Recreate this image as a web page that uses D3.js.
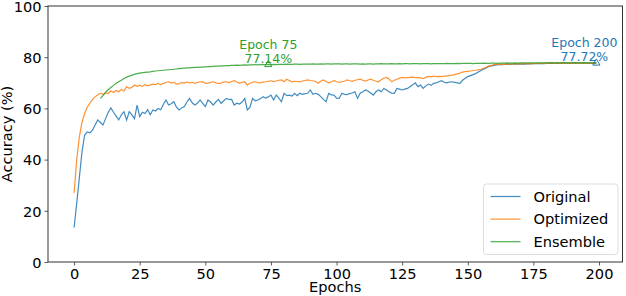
<!DOCTYPE html>
<html>
<head>
<meta charset="utf-8">
<script src="https://cdn.jsdelivr.net/npm/d3@7"></script>
<style>
  body { margin: 0; background: #fff; }
  text { font-family: "DejaVu Sans", sans-serif; }
</style>
</head>
<body>
<div id="chart"></div>
<script>
// accuracy per epoch (index 0..199)
var original = [
  13.5, 23, 33, 43, 49.5, 50.8, 50.5, 51.5, 53.5, 55.5,
  54.5, 53.5, 56, 58.5, 60.2, 58.5, 57, 55.5, 57.5, 58.7,
  55.5, 58.7, 57.5, 56, 61.3, 56.8, 58.5, 58, 59.5, 57.5,
  59.4, 59, 60, 59.5, 61.5, 63.3, 61.3, 61.8, 62.6, 60.5,
  59.4, 60.2, 60.7, 62.5, 63.9, 62.2, 61.3, 62, 63.3, 62,
  60.7, 63.3, 62.5, 61.3, 62.5, 63.5, 62, 63, 63.9, 63.5,
  63.5, 61.3, 62, 61.7, 62.5, 63.9, 59.4, 60.5, 63.9, 63,
  63.3, 63.8, 64.6, 64, 64.5, 65.2, 63.3, 65.2, 64, 62.6,
  65.9, 65, 65.2, 64.8, 65.9, 65, 65.9, 65.5, 65.8, 65.9,
  67.2, 65.5, 65.9, 65.5, 64.6, 63.5, 62.6, 65.9, 65.3, 65.2,
  64, 63.9, 65.9, 65.5, 65.4, 65.8, 66, 66.5, 63.9, 65.9,
  66.5, 67.2, 66.8, 66, 65.2, 66.5, 67.2, 66.5, 67.8, 67.2,
  66.5, 66, 65.9, 67.8, 67.5, 67.2, 67.5, 67.8, 68.5, 69.2,
  70, 68.5, 69.1, 67.8, 68.8, 69.5, 69, 69.8, 70, 70.4,
  70.8, 70.2, 70, 70.3, 70.4, 70.2, 70, 69.8, 71, 71.8,
  72.4, 72.8, 73.2, 73.6, 74.2, 74.8, 75.3, 75.8, 76.4, 76.6,
  76.8, 77, 77.2, 77.1, 77.2, 77.3, 77.2, 77.3, 77.4, 77.3,
  77.3, 77.4, 77.3, 77.5, 77.4, 77.5, 77.6, 77.5, 77.6, 77.5,
  77.6, 77.7, 77.6, 77.6, 77.7, 77.6, 77.7, 77.8, 77.7, 77.6,
  77.7, 77.8, 77.7, 77.7, 77.8, 77.7, 77.6, 77.7, 77.8, 77.72
];

var optimized = [
  27, 40, 49, 54.5, 58, 60.5, 62, 63.5, 64.5, 65.3,
  65.9, 65.5, 66.1, 65.8, 66.8, 66.2, 67, 66.5, 67.4, 66.8,
  68.5, 67.8, 68.2, 69.1, 68.5, 69.1, 68.6, 69.3, 68.8, 69.2,
  69.5, 69.3, 69.8, 69.2, 69.8, 70.1, 70.4, 69.9, 70.2, 69.5,
  69.7, 70.1, 69.9, 70.3, 70, 70.2, 69.8, 70.1, 70.4, 70.4,
  69.8, 69.9, 70.2, 70.4, 70, 69.8, 69.9, 70.3, 70.4, 70.1,
  70.5, 70.8, 70.3, 69.8, 70.2, 70.4, 69.1, 69.8, 70.2, 70.4,
  70.1, 70, 70.3, 70.4, 70.6, 70.8, 70.5, 70.7, 71, 71.1,
  70.4, 71.4, 70.9, 70.4, 70.6, 70.5, 70.4, 70.7, 70.9, 71.1,
  70.9, 70.8, 70.5, 69.8, 70.6, 71.1, 70.5, 70, 70.4, 70.8,
  70.4, 70.2, 70.4, 70.6, 71.1, 70.8, 70.6, 71, 71.2, 71.4,
  71, 70.7, 71.1, 71.4, 71, 70.6, 70.4, 71.2, 71.8, 72.1,
  71.5, 70.4, 71, 71.4, 71.8, 72.1, 71.9, 72, 72.1, 72.2,
  72, 72.1, 71.9, 71.6, 72.1, 72.5, 72.3, 72.6, 72.4, 72.5,
  72.4, 72.6, 72.7, 72.9, 73, 73.2, 73.5, 73.8, 74.2, 74.4,
  74.5, 74.6, 74.8, 74.9, 75.1, 75.3, 75.7, 76.1, 76.5, 76.8,
  77.1, 77.2, 77.2, 77.3, 77.2, 77.4, 77.3, 77.4, 77.5, 77.4,
  77.5, 77.4, 77.6, 77.5, 77.6, 77.5, 77.6, 77.7, 77.6, 77.7,
  77.6, 77.7, 77.7, 77.6, 77.8, 77.7, 77.6, 77.7, 77.8, 77.7,
  77.6, 77.7, 77.8, 77.7, 77.6, 77.7, 77.8, 77.7, 77.6, 77.7
];

// ensemble only starts at epoch index 10
var ensemble = [
  null, null, null, null, null, null, null, null, null, null,
  63.9, 65, 66.3, 67.3, 68.2, 69, 69.8, 70.4, 71, 71.7,
  72.2, 72.6, 73, 73.3, 73.6, 73.8, 74, 74.1, 74.2, 74.3,
  74.5, 74.6, 74.7, 74.8, 74.9, 75, 75.1, 75.2, 75.3, 75.4,
  75.5, 75.6, 75.7, 75.8, 75.8, 75.9, 76, 76, 76.1, 76.1,
  76.2, 76.3, 76.3, 76.4, 76.5, 76.5, 76.6, 76.6, 76.7, 76.7,
  76.8, 76.8, 76.9, 76.8, 76.9, 77, 76.9, 77, 77, 77.1,
  77, 77.1, 77.1, 77.1, 77.14, 77.1, 77.2, 77.1, 77.2, 77.2,
  77.2, 77.3, 77.2, 77.2, 77.3, 77.3, 77.2, 77.3, 77.3, 77.3,
  77.3, 77.4, 77.3, 77.3, 77.4, 77.3, 77.4, 77.4, 77.3, 77.4,
  77.4, 77.4, 77.3, 77.4, 77.4, 77.3, 77.4, 77.4, 77.4, 77.3,
  77.4, 77.3, 77.4, 77.4, 77.3, 77.4, 77.4, 77.5, 77.4, 77.4,
  77.4, 77.5, 77.4, 77.4, 77.5, 77.4, 77.5, 77.5, 77.4, 77.5,
  77.5, 77.5, 77.4, 77.5, 77.5, 77.5, 77.4, 77.5, 77.5, 77.5,
  77.5, 77.5, 77.6, 77.5, 77.5, 77.5, 77.6, 77.5, 77.6, 77.6,
  77.6, 77.6, 77.5, 77.6, 77.6, 77.6, 77.7, 77.6, 77.6, 77.7,
  77.7, 77.6, 77.7, 77.7, 77.7, 77.8, 77.7, 77.7, 77.8, 77.7,
  77.8, 77.8, 77.7, 77.8, 77.8, 77.8, 77.7, 77.8, 77.8, 77.8,
  77.8, 77.8, 77.9, 77.8, 77.8, 77.8, 77.9, 77.8, 77.8, 77.8,
  77.9, 77.8, 77.8, 77.8, 77.9, 77.8, 77.8, 77.8, 77.8, 77.8
];

var seriesNames = ["Original", "Optimized", "Ensemble"];
var seriesColors = ["#1f77b4", "#ff7f0e", "#2ca02c"];
var xTicks = [0, 25, 50, 75, 100, 125, 150, 175, 200];
var yTicks = [0, 20, 40, 60, 80, 100];

// annotated points: which series and which epoch index
var annSeries = [2, 0];
var annIndex = [74, 199];

var svgWidth = 626;
var svgHeight = 296;

var margin = { top: 6, right: 3.5, bottom: 34, left: 48 };
var width = svgWidth - margin.left - margin.right;
var height = svgHeight - margin.top - margin.bottom;

var svg = d3.select("#chart")
  .append("svg")
  .attr("width", svgWidth)
  .attr("height", svgHeight);

var chartGroup = svg.append("g")
  .attr("transform", `translate(${margin.left}, ${margin.top})`);

var allSeries = [original, optimized, ensemble];
var n = original.length;

// matplotlib style 5% padding on x
var pad = (n - 1) * 0.05;
var xScale = d3.scaleLinear()
  .domain([-pad, n - 1 + pad])
  .range([0, width]);

var yScale = d3.scaleLinear()
  .domain([0, 100])
  .range([height, 0]);

// axes
var bottomAxis = d3.axisBottom(xScale).tickValues(xTicks).tickSize(3.5).tickPadding(3);
var leftAxis = d3.axisLeft(yScale).tickValues(yTicks).tickSize(3.5).tickPadding(3);

var xAxis = chartGroup.append("g")
  .attr("transform", `translate(0, ${height})`)
  .call(bottomAxis);

var yAxis = chartGroup.append("g")
  .call(leftAxis);

[xAxis, yAxis].forEach(function(ax) {
  ax.select(".domain").remove();
  ax.selectAll(".tick line").attr("stroke", "#333").attr("stroke-width", 0.8);
  ax.selectAll(".tick text")
    .attr("fill", "#000")
    .style("font-size", "14.6px")
    .style("font-family", "DejaVu Sans, sans-serif");
});
yAxis.selectAll(".tick text").attr("dy", "0.36em");

// lines
var line = d3.line()
  .defined(d => d !== null)
  .x((d, i) => xScale(i))
  .y(d => yScale(d));

allSeries.forEach(function(data, k) {
  chartGroup.append("path")
    .datum(data)
    .attr("fill", "none")
    .attr("stroke", seriesColors[k])
    .attr("stroke-width", 1.2)
    .attr("stroke-opacity", 0.85)
    .attr("d", line);
});

// annotations
annSeries.forEach(function(s, k) {
  var idx = annIndex[k];
  var val = allSeries[s][idx];
  var px = xScale(idx);
  var py = yScale(val);
  var col = seriesColors[s];

  chartGroup.append("path")
    .attr("d", d3.symbol().type(d3.symbolTriangle).size(22))
    .attr("transform", `translate(${px}, ${py})`)
    .attr("fill", "none")
    .attr("stroke", col)
    .attr("stroke-width", 1);

  var tx = px + (idx === n - 1 ? -12 : 0);
  var t = chartGroup.append("text")
    .attr("x", tx)
    .attr("y", py - 16)
    .attr("text-anchor", "middle")
    .attr("fill", col)
    .style("font-size", "12.5px");
  t.append("tspan").attr("x", tx).attr("dy", 0).text("Epoch " + (idx + 1));
  t.append("tspan").attr("x", tx).attr("dy", 14).text(val.toFixed(2) + "%");
});

// frame
chartGroup.append("rect")
  .attr("x", 0)
  .attr("y", 0)
  .attr("width", width)
  .attr("height", height)
  .attr("fill", "none")
  .attr("stroke", "#333")
  .attr("stroke-width", 1);

// axis labels
chartGroup.append("text")
  .attr("x", width / 2)
  .attr("y", height + 30)
  .attr("text-anchor", "middle")
  .style("font-size", "14.6px")
  .text("Epochs");

chartGroup.append("text")
  .attr("transform", "rotate(-90)")
  .attr("x", -height / 2)
  .attr("y", -36)
  .attr("text-anchor", "middle")
  .style("font-size", "14.6px")
  .text("Accuracy (%)");

// legend
var legend = chartGroup.append("g")
  .attr("transform", `translate(${width - 139}, ${height - 78})`);

legend.append("rect")
  .attr("width", 134.5)
  .attr("height", 70.5)
  .attr("rx", 3)
  .attr("fill", "#fff")
  .attr("fill-opacity", 0.8)
  .attr("stroke", "#ddd")
  .attr("stroke-width", 1);

seriesNames.forEach(function(name, k) {
  var ly = 12.5 + k * 22.6;
  legend.append("line")
    .attr("x1", 7)
    .attr("x2", 37)
    .attr("y1", ly)
    .attr("y2", ly)
    .attr("stroke", seriesColors[k])
    .attr("stroke-width", 1.2)
    .attr("stroke-opacity", 0.85);
  legend.append("text")
    .attr("x", 50)
    .attr("y", ly)
    .attr("dy", "0.36em")
    .style("font-size", "14.6px")
    .text(name);
});
</script>
</body>
</html>
